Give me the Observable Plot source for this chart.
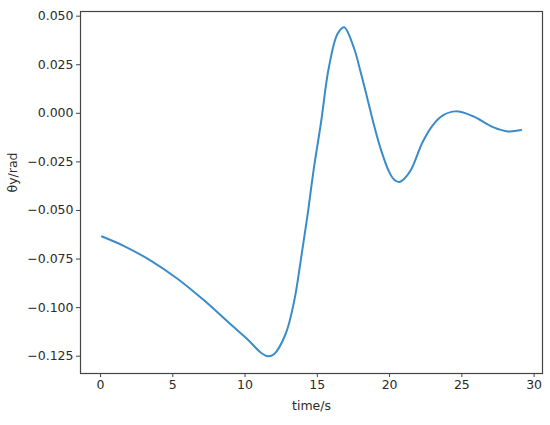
<!DOCTYPE html>
<html>
<head>
<meta charset="utf-8">
<script src="https://cdn.jsdelivr.net/npm/d3@7"></script>
<script src="https://cdn.jsdelivr.net/npm/@observablehq/plot@0.6"></script>
<style>
  html, body { margin: 0; padding: 0; background: #fff; }
  #chart svg { display: block; }
</style>
</head>
<body>
<div id="chart"></div>
<script>
// time (s) and angle (rad)
const time = [0.1, 1.6, 3.5, 5.3, 7.2, 9.0, 10.2, 11.1, 11.6, 12.0, 12.8, 13.4, 13.85, 14.3, 14.77, 15.24, 15.8, 16.4, 16.85, 17.54, 18.0, 18.47, 18.93, 19.39, 19.96, 20.3, 20.66, 21.05, 21.5, 22.28, 22.97, 23.66, 24.58, 25.74, 27.2, 28.2, 29.1];
const theta = [-0.0634, -0.0682, -0.0759, -0.0850, -0.0965, -0.1086, -0.1165, -0.1232, -0.1250, -0.1240, -0.1137, -0.0966, -0.0759, -0.0536, -0.0278, -0.0055, 0.0237, 0.0409, 0.0443, 0.0335, 0.0211, 0.0074, -0.0063, -0.0184, -0.0300, -0.0340, -0.0353, -0.0334, -0.0288, -0.0149, -0.0063, -0.0012, 0.0010, -0.0014, -0.0072, -0.0093, -0.0086];
const xTicks = [0, 5, 10, 15, 20, 25, 30];
const yTicks = [-0.125, -0.100, -0.075, -0.050, -0.025, 0.000, 0.025, 0.050];
const xLabel = "time/s";
const yLabel = "θy/rad";

const data = time.map((t, i) => ({t, v: theta[i]}));
const ink = "#2b2b2b";

const chart = Plot.plot({
  width: 550,
  height: 425,
  marginLeft: 80,
  marginTop: 11,
  marginRight: 8,
  marginBottom: 52,
  style: {fontFamily: "DejaVu Sans", fontSize: "12.5px", color: ink, background: "#fff"},
  x: {domain: [-1.385, 30.58]},
  y: {domain: [-0.1339, 0.0524]},
  marks: [
    Plot.frame({stroke: "#444", strokeWidth: 1.2}),
    Plot.axisX({ticks: xTicks, tickSize: 4, tickPadding: 3, tickFormat: d3.format("d"), label: null, stroke: "#444"}),
    Plot.axisY({ticks: yTicks, tickSize: 4, tickPadding: 3, tickFormat: d3.format(".3f"), label: null, stroke: "#444"}),
    Plot.line(data, {x: "t", y: "v", stroke: "#3a8cc8", strokeWidth: 2, curve: "catmull-rom"}),
    Plot.text([xLabel], {text: d => d, frameAnchor: "bottom", dy: 36, fill: ink}),
    Plot.text([yLabel], {text: d => d, frameAnchor: "left", dx: -68, rotate: -90, fill: ink})
  ]
});
document.getElementById("chart").appendChild(chart);
</script>
</body>
</html>
